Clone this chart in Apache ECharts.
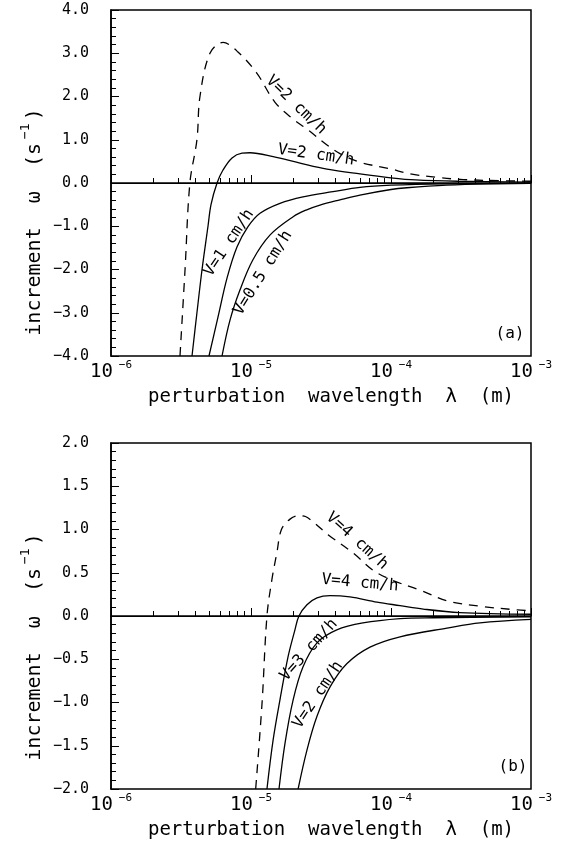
<!DOCTYPE html>
<html>
<head>
<meta charset="utf-8">
<script src="https://cdn.jsdelivr.net/npm/echarts@6/dist/echarts.min.js"></script>
<style>
  html, body { margin: 0; padding: 0; background: #fff; }
  #chart { width: 565px; height: 848px; }
</style>
</head>
<body>
<div id="chart"></div>
<script>
// panel (a): wavelength (m) and increment (1/s)
const lamA_dash = [3.11e-6, 3.38e-6, 3.66e-6, 4.11e-6, 4.32e-6, 5.09e-6, 6.31e-6, 8.07e-6, 1.10e-5, 1.48e-5, 1.96e-5, 2.55e-5, 3.49e-5, 4.32e-5, 6.0e-5, 9.84e-5, 1.37e-4, 2.13e-4, 3.27e-4, 6.74e-4, 1e-3]
const omA_dash = [-4.0, -2.0, 0.0, 1.0, 2.0, 3.0, 3.25, 3.03, 2.54, 1.87, 1.50, 1.23, 0.88, 0.68, 0.48, 0.33, 0.21, 0.13, 0.08, 0.05, 0.04]

const lamA_v2 = [3.79e-6, 4.11e-6, 4.47e-6, 4.93e-6, 5.18e-6, 5.72e-6, 6.31e-6, 7.32e-6, 8.63e-6, 9.84e-6, 1.44e-5, 2.24e-5, 3.49e-5, 6.0e-5, 1.0e-4, 1.5e-4, 3.0e-4, 1e-3]
const omA_v2 = [-4.0, -3.0, -2.0, -1.0, -0.5, 0.0, 0.30, 0.58, 0.69, 0.70, 0.61, 0.46, 0.32, 0.21, 0.12, 0.07, 0.04, 0.02]

const lamA_v1 = [5.01e-6, 5.81e-6, 6.74e-6, 7.94e-6, 9.52e-6, 1.16e-5, 1.61e-5, 2.35e-5, 3.85e-5, 6.0e-5, 1.0e-4, 2.5e-4, 1e-3]
const omA_v1 = [-4.0, -3.1, -2.2, -1.48, -1.01, -0.70, -0.47, -0.32, -0.20, -0.10, -0.05, -0.02, -0.01]

const lamA_v05 = [6.21e-6, 7.08e-6, 8.35e-6, 1.03e-5, 1.37e-5, 2.0e-5, 2.5e-5, 3.11e-5, 4.32e-5, 6.0e-5, 1.0e-4, 1.3e-4, 2.5e-4, 5.0e-4, 1e-3]
const omA_v05 = [-4.0, -3.17, -2.47, -1.78, -1.20, -0.78, -0.62, -0.51, -0.39, -0.28, -0.15, -0.11, -0.05, -0.02, -0.01]

// panel (b)
const lamB_dash = [1.08e-5, 1.20e-5, 1.30e-5, 1.41e-5, 1.53e-5, 1.65e-5, 1.90e-5, 2.20e-5, 2.45e-5, 2.77e-5, 3.55e-5, 5.35e-5, 7.43e-5, 1.0e-4, 1.6e-4, 2.6e-4, 4.5e-4, 8.0e-4, 1e-3]
const omB_dash = [-2.0, -1.0, 0.0, 0.42, 0.73, 1.0, 1.12, 1.16, 1.15, 1.09, 0.94, 0.73, 0.53, 0.42, 0.30, 0.17, 0.11, 0.07, 0.06]

const lamB_v4 = [1.30e-5, 1.44e-5, 1.61e-5, 1.84e-5, 2.06e-5, 2.20e-5, 2.51e-5, 2.96e-5, 3.67e-5, 5.09e-5, 7.94e-5, 1.16e-4, 1.7e-4, 3.1e-4, 1e-3]
const omB_v4 = [-2.0, -1.43, -0.97, -0.47, -0.16, 0.0, 0.13, 0.21, 0.235, 0.22, 0.16, 0.12, 0.08, 0.04, 0.02]

const lamB_v3 = [1.585e-5, 1.75e-5, 2.0e-5, 2.35e-5, 2.96e-5, 4.1e-5, 6.3e-5, 1.16e-4, 2.0e-4, 1e-3]
const omB_v3 = [-2.0, -1.47, -0.97, -0.59, -0.31, -0.16, -0.08, -0.03, -0.02, -0.01]

const lamB_v2 = [2.17e-5, 2.51e-5, 2.96e-5, 3.67e-5, 4.85e-5, 7.08e-5, 1.16e-4, 2.51e-4, 4.32e-4, 1e-3]
const omB_v2 = [-2.0, -1.55, -1.16, -0.82, -0.55, -0.36, -0.24, -0.14, -0.08, -0.04]

const yTicksA = { min: -4, max: 4, interval: 1 }
const yTicksB = { min: -2, max: 2, interval: 0.5 }

const FONT = 'DejaVu Sans Mono'

function zip(xs, ys) {
    return xs.map((x, i) => [x, ys[i]])
}

function fmtY(v) {
    return (v < 0 ? '\u2212' : '') + Math.abs(v).toFixed(1)
}

function fmtX(v) {
    const e = Math.round(Math.log10(v))
    return '{b|10}{s|\u2212' + Math.abs(e) + '}'
}

function xAxisOpt(gridIndex) {
    return {
        type: 'log',
        logBase: 10,
        gridIndex: gridIndex,
        min: 1e-6,
        max: 1e-3,
        interval: 1,
        name: 'perturbation  wavelength  \u03bb  (m)',
        nameLocation: 'middle',
        nameGap: 32,
        nameTextStyle: { color: '#000', fontFamily: FONT, fontSize: 19, padding: [0, 0, 0, 20] },
        axisLine: { show: true, lineStyle: { color: '#000', width: 1.5 } },
        axisTick: { show: true, inside: true, length: 8, lineStyle: { color: '#000', width: 1 } },
        minorTick: { show: true, splitNumber: 9, length: 5, lineStyle: { color: '#000', width: 1 } },
        splitLine: { show: false },
        minorSplitLine: { show: false },
        axisLabel: {
            margin: 4,
            formatter: fmtX,
            rich: {
                b: { fontFamily: FONT, fontSize: 19, color: '#000', lineHeight: 22, verticalAlign: 'bottom' },
                s: { fontFamily: FONT, fontSize: 11, color: '#000', lineHeight: 22, verticalAlign: 'top', padding: [0, 0, 0, 6] }
            }
        }
    }
}

function yAxisOpt(gridIndex, t) {
    return {
        type: 'value',
        gridIndex: gridIndex,
        min: t.min,
        max: t.max,
        interval: t.interval,
        axisLine: { show: true, lineStyle: { color: '#000', width: 1.5 } },
        axisTick: { show: true, inside: true, length: 8, lineStyle: { color: '#000', width: 1 } },
        minorTick: { show: true, splitNumber: 5, length: 5, lineStyle: { color: '#000', width: 1 } },
        splitLine: { show: false },
        axisLabel: { margin: 22, color: '#000', fontFamily: FONT, fontSize: 15, formatter: fmtY }
    }
}

function curve(data, axisIndex, dashed, withZero) {
    const s = {
        type: 'line',
        xAxisIndex: axisIndex,
        yAxisIndex: axisIndex,
        data: data,
        showSymbol: false,
        smooth: 0.35,
        clip: true,
        silent: true,
        lineStyle: { color: '#000', width: 1.3, type: dashed ? [9, 7] : 'solid' }
    }
    if (withZero) {
        s.markLine = {
            silent: true,
            symbol: 'none',
            label: { show: false },
            lineStyle: { color: '#000', width: 1, type: 'solid' },
            data: [{ yAxis: 0 }]
        }
    }
    return s
}

function label(text, x, y, deg, size) {
    return {
        type: 'text',
        x: x,
        y: y,
        rotation: deg * Math.PI / 180,
        silent: true,
        style: {
            text: text,
            fill: '#000',
            font: (size || 16) + 'px "' + FONT + '"',
            textAlign: 'center',
            textVerticalAlign: 'middle',
            align: 'center',
            verticalAlign: 'middle'
        }
    }
}

function yName(y) {
    return {
        type: 'text',
        x: 32,
        y: y,
        rotation: Math.PI / 2,
        silent: true,
        style: {
            text: '{a|increment  \u03c9  (s}{s|\u22121}{a|)}',
            align: 'center',
            verticalAlign: 'middle',
            textAlign: 'center',
            textVerticalAlign: 'middle',
            rich: {
                a: { fontFamily: FONT, fontSize: 20, fill: '#000', lineHeight: 26, verticalAlign: 'bottom' },
                s: { fontFamily: FONT, fontSize: 13, fill: '#000', lineHeight: 26, verticalAlign: 'top', padding: [0, 3, 0, 4] }
            }
        }
    }
}

const chart = echarts.init(document.getElementById('chart'), null, { renderer: 'canvas' })

chart.setOption({
    backgroundColor: '#fff',
    animation: false,
    grid: [
        { left: 111, top: 10, width: 420, height: 346, show: true, borderColor: '#000', borderWidth: 1.5, backgroundColor: 'transparent' },
        { left: 111, top: 443, width: 420, height: 346, show: true, borderColor: '#000', borderWidth: 1.5, backgroundColor: 'transparent' }
    ],
    xAxis: [xAxisOpt(0), xAxisOpt(1)],
    yAxis: [yAxisOpt(0, yTicksA), yAxisOpt(1, yTicksB)],
    series: [
        curve(zip(lamA_dash, omA_dash), 0, true, true),
        curve(zip(lamA_v2, omA_v2), 0, false),
        curve(zip(lamA_v1, omA_v1), 0, false),
        curve(zip(lamA_v05, omA_v05), 0, false),
        curve(zip(lamB_dash, omB_dash), 1, true, true),
        curve(zip(lamB_v4, omB_v4), 1, false),
        curve(zip(lamB_v3, omB_v3), 1, false),
        curve(zip(lamB_v2, omB_v2), 1, false)
    ],
    graphic: [
        yName(222),
        yName(647),
        label('V=2 cm/h', 296, 105, -44),
        label('V=2 cm/h', 316, 155, -8),
        label('V=1 cm/h', 229, 243, 56),
        label('V=0.5 cm/h', 263, 273, 58),
        label('(a)', 510, 334, 0, 16),
        label('V=4 cm/h', 357, 541, -42),
        label('V=4 cm/h', 360, 583, -5),
        label('V=3 cm/h', 309, 650, 48),
        label('V=2 cm/h', 318, 695, 56),
        label('(b)', 513, 767, 0, 16)
    ]
})
</script>
</body>
</html>
